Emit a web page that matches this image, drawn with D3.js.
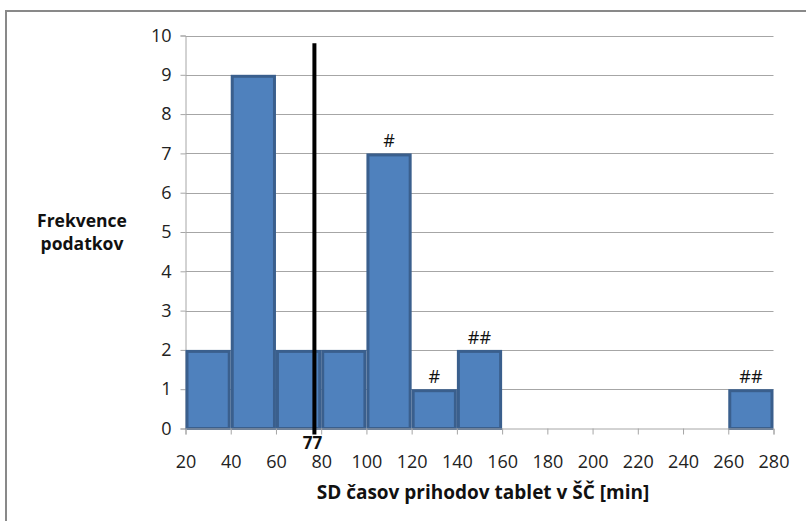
<!DOCTYPE html>
<html>
<head>
<meta charset="utf-8">
<script src="https://cdn.jsdelivr.net/npm/d3@7"></script>
<style>
  html, body { margin: 0; padding: 0; background: #fff; }
  svg { display: block; font-family: "Open Sans", "Liberation Sans", sans-serif; }
</style>
</head>
<body>
<svg id="chart" width="806" height="521"></svg>
<script>
// Histogram bins (lower edge, upper edge) and counts
const binStarts = [20, 40, 60, 80, 100, 120, 140, 260];
const binEnds   = [40, 60, 80, 100, 120, 140, 160, 280];
const counts    = [2, 9, 2, 2, 7, 1, 2, 1];
// Significance marks drawn above bins
const marks     = ["", "", "", "", "#", "#", "##", "##"];
const xTicks = [20, 40, 60, 80, 100, 120, 140, 160, 180, 200, 220, 240, 260, 280];
const yTicks = [0, 1, 2, 3, 4, 5, 6, 7, 8, 9, 10];
const refValue = 77;
const refTop = 9.8;

const svg = d3.select("#chart");

// outer frame
svg.append("rect")
  .attr("x", 6).attr("y", 11)
  .attr("width", 820).attr("height", 540)
  .attr("fill", "#fff").attr("stroke", "#898989").attr("stroke-width", 2);

const x = d3.scaleLinear().domain([20, 280]).range([185.5, 773.5]);
const y = d3.scaleLinear().domain([0, 10]).range([428.5, 35.5]);

// horizontal gridlines
svg.append("g")
  .selectAll("line").data(yTicks.filter(d => d > 0)).join("line")
  .attr("x1", x(20)).attr("x2", x(280))
  .attr("y1", d => Math.round(y(d)) + 0.5).attr("y2", d => Math.round(y(d)) + 0.5)
  .attr("stroke", "#a6a6a6").attr("stroke-width", 1);

// y axis
const yAxis = svg.append("g")
  .attr("transform", `translate(${x(20)},0)`)
  .call(d3.axisLeft(y).tickValues(yTicks).tickSize(5).tickPadding(9).tickFormat(d3.format("d")));
yAxis.select(".domain").attr("stroke", "#a6a6a6");
yAxis.selectAll(".tick line").attr("stroke", "#a6a6a6");
yAxis.selectAll(".tick text").attr("font-size", 18).attr("fill", "#222")
  .attr("font-family", "'Open Sans', sans-serif");

// bars
svg.append("g")
  .selectAll("rect").data(counts).join("rect")
  .attr("x", (d, i) => x(binStarts[i]) + 1.5)
  .attr("width", (d, i) => x(binEnds[i]) - x(binStarts[i]) - 3)
  .attr("y", d => y(d) + 1.5)
  .attr("height", d => y(0) - y(d) - 1.5)
  .attr("fill", "#4f81bd").attr("stroke", "#3a5f8d").attr("stroke-width", 3);

// x axis
const xAxis = svg.append("g")
  .attr("transform", `translate(0,${y(0)})`)
  .call(d3.axisBottom(x).tickValues(xTicks).tickSize(6).tickPadding(21).tickFormat(d3.format("d")));
xAxis.select(".domain").attr("stroke", "#a6a6a6");
xAxis.selectAll(".tick line").attr("stroke", "#a6a6a6");
xAxis.selectAll(".tick text").attr("font-size", 18).attr("fill", "#222")
  .attr("font-family", "'Open Sans', sans-serif");

// significance marks
svg.append("g")
  .selectAll("text").data(counts).join("text")
  .attr("x", (d, i) => x((binStarts[i] + binEnds[i]) / 2))
  .attr("y", d => y(d) - 6)
  .attr("text-anchor", "middle")
  .attr("font-size", 18).attr("fill", "#111")
  .text((d, i) => marks[i]);

// reference line at 77
svg.append("line")
  .attr("x1", x(refValue)).attr("x2", x(refValue))
  .attr("y1", y(refTop)).attr("y2", y(0) + 6)
  .attr("stroke", "#000").attr("stroke-width", 4);
svg.append("text")
  .attr("x", x(refValue) - 2).attr("y", y(0) + 20)
  .attr("text-anchor", "middle")
  .attr("font-size", 17).attr("font-weight", "bold").attr("fill", "#111")
  .text(refValue);

// axis titles
svg.append("text")
  .attr("x", 483).attr("y", 499)
  .attr("text-anchor", "middle")
  .attr("font-size", 19).attr("font-weight", "bold").attr("fill", "#111")
  .text("SD časov prihodov tablet v ŠČ [min]");

const yt = svg.append("text")
  .attr("text-anchor", "middle")
  .attr("font-size", 17.5).attr("font-weight", "bold").attr("fill", "#111");
yt.append("tspan").attr("x", 82).attr("y", 227).text("Frekvence");
yt.append("tspan").attr("x", 82).attr("y", 250).text("podatkov");
</script>
</body>
</html>
